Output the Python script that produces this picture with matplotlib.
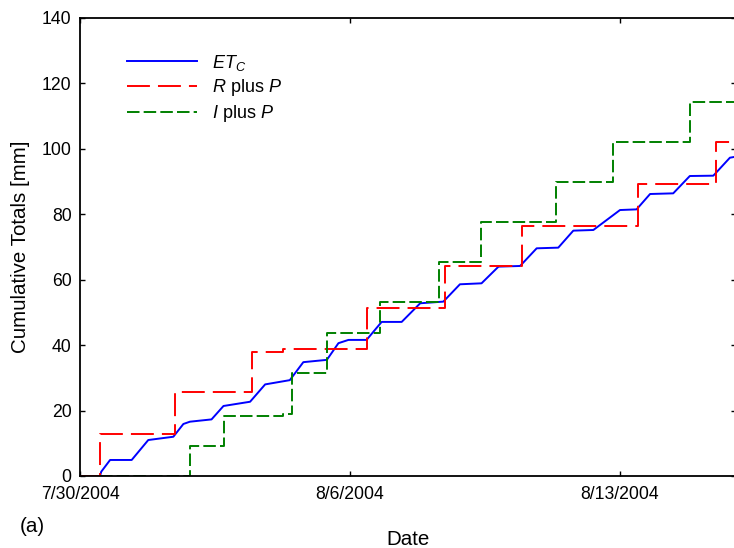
import matplotlib
matplotlib.use('Agg')
import matplotlib.pyplot as plt
import numpy as np

plt.rcParams['font.family'] = ['Liberation Sans', 'DejaVu Sans']
plt.rcParams['mathtext.fontset'] = 'custom'
plt.rcParams['mathtext.rm'] = 'Liberation Sans'
plt.rcParams['mathtext.it'] = 'Liberation Sans:italic'
plt.rcParams['lines.scale_dashes'] = False

# 날짜는 7/30/2004 부터 지난 일수(day)
etc_day = [0.52, 0.55, 0.78, 1.34, 1.77, 2.42, 2.68, 2.85, 3.41, 3.72, 4.41, 4.80,
           5.44, 5.79, 6.40, 6.70, 6.96, 7.43, 7.82, 8.34, 8.82, 9.42, 9.85, 10.41,
           10.85, 11.41, 11.84, 12.40, 12.79, 13.31, 14.00, 14.43, 14.78, 15.38,
           15.81, 16.42, 16.85, 17.0]
etc_mm = [0.0, 1.3, 4.9, 4.9, 11.0, 12.0, 15.9, 16.6, 17.3, 21.4, 22.7, 28.0,
          29.3, 34.8, 35.5, 40.6, 41.6, 41.6, 47.1, 47.1, 52.8, 53.3, 58.6, 58.9,
          64.0, 64.2, 69.6, 69.8, 75.0, 75.2, 81.3, 81.5, 86.2, 86.4,
          91.7, 91.8, 97.3, 97.6]

rp_day = [0.0, 0.52, 2.46, 4.45, 5.26, 7.44, 9.46, 11.46, 14.47, 16.49, 17.0]
rp_mm = [0.0, 12.8, 25.8, 38.0, 38.7, 51.3, 64.2, 76.4, 89.3, 102.2, 102.2]

ip_day = [0.52, 2.85, 3.74, 5.26, 5.49, 6.41, 7.78, 9.31, 10.39, 12.34, 13.81, 15.81, 17.0]
ip_mm = [0.0, 9.3, 18.3, 19.0, 31.4, 43.6, 53.1, 65.4, 77.7, 89.9, 102.1, 114.3, 114.3]

xtick_pos = [0, 7, 14]
xtick_lab = ['7/30/2004', '8/6/2004', '8/13/2004']

fig = plt.figure(figsize=(7.34, 5.48), dpi=100)
ax = fig.add_axes([80/734, 72/548, 655.7/734, 458/548])

ax.plot(etc_day, etc_mm, color='#0000ff', lw=1.4, label='$ET_C$')
ax.plot(rp_day, rp_mm, color='#ff0000', lw=1.4, drawstyle='steps-post',
        dashes=(16.5, 5.8), label='$R$ plus $P$')
ax.plot(ip_day, ip_mm, color='#008000', lw=1.4, drawstyle='steps-post',
        dashes=(9, 3), label='$I$ plus $P$')

ax.set_xlim(0, 17)
ax.set_ylim(0, 140)
ax.set_xticks(xtick_pos)
ax.set_xticklabels(xtick_lab)
ax.set_yticks(np.arange(0, 141, 20))
ax.tick_params(direction='in', top=True, right=True, length=3.6, width=1,
               labelsize=12.7, pad=6)
ax.tick_params(axis='x', pad=7)
for s in ax.spines.values():
    s.set_linewidth(1.3)

ax.set_xlabel('Date', fontsize=14.8)
ax.xaxis.set_label_coords(0.5, -0.118)
ax.set_ylabel('Cumulative Totals [mm]', fontsize=14.8)
ax.yaxis.set_label_coords(-0.076, 0.5)

ax.legend(loc='upper left', bbox_to_anchor=(0.0717, 0.924), frameon=False,
          fontsize=13, handlelength=3.9, handletextpad=0.78, labelspacing=0.25,
          borderpad=0, borderaxespad=0)

fig.text(20/734, (548-527)/548, '(a)', fontsize=14.8, va='center', ha='left')

fig.savefig('out.png', dpi=100)
